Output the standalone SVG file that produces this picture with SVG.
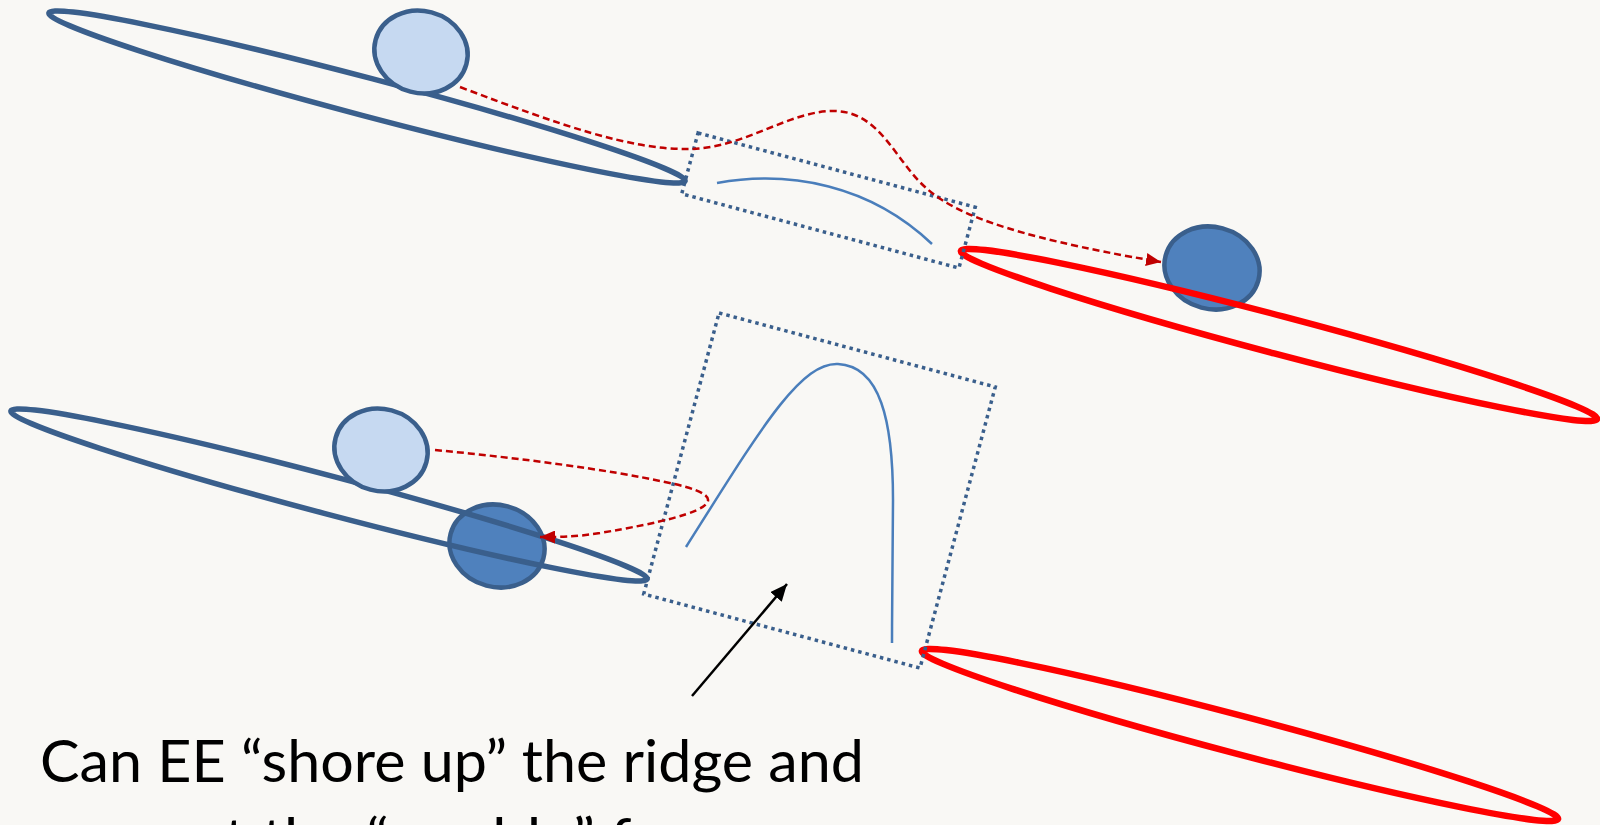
<svg xmlns="http://www.w3.org/2000/svg" width="1600" height="825" viewBox="0 0 1600 825">
  <defs>
    <style>
      .well-blue { fill: none; stroke: #3A5F8C; stroke-width: 5.5; }
      .well-red { fill: none; stroke: #FF0000; stroke-width: 6.5; }
      .ball-light { fill: #C6D9F1; stroke: #3A5F8C; stroke-width: 4.5; }
      .ball-dark { fill: #4F81BD; stroke: #3A5F8C; stroke-width: 4.5; }
      .box { fill: none; stroke: #3A5F8C; stroke-width: 3.5; stroke-dasharray: 3.5 4; }
      .ridge { fill: none; stroke: #4A7EBB; stroke-width: 2.5; }
      .path-red { fill: none; stroke: #C00000; stroke-width: 2.5; stroke-dasharray: 7 4; }
      .pointer { fill: none; stroke: #000000; stroke-width: 2.5; }
      .caption { font-family: "Lato", "Open Sans", "Liberation Sans", sans-serif; font-size: 59px; fill: #000000; }
    </style>
    <marker id="ah-red" markerWidth="15" markerHeight="13" refX="15" refY="6.5" orient="auto" markerUnits="userSpaceOnUse">
      <path d="M0,0 L15,6.5 L0,13 z" fill="#C00000"/>
    </marker>
    <marker id="ah-black" markerWidth="17" markerHeight="15" refX="17" refY="7.5" orient="auto" markerUnits="userSpaceOnUse">
      <path d="M0,0 L17,7.5 L0,15 z" fill="#000000"/>
    </marker>
  </defs>

  <rect x="0" y="0" width="1600" height="825" fill="#F9F8F5"/>

  <!-- Top scenario -->
  <g id="top-well-left">
    <ellipse class="well-blue" cx="367" cy="97" rx="329" ry="19" transform="rotate(14.8 367 97)"/>
  </g>
  <g id="top-ball-start">
    <ellipse class="ball-light" cx="421" cy="52" rx="47" ry="41" transform="rotate(15 421 52)"/>
  </g>
  <g id="top-ball-end">
    <ellipse class="ball-dark" cx="1212" cy="268" rx="48" ry="41" transform="rotate(15 1212 268)"/>
  </g>
  <g id="top-well-right">
    <ellipse class="well-red" cx="1279" cy="335" rx="329" ry="19" transform="rotate(14.8 1279 335)"/>
  </g>
  <g id="top-box">
    <rect class="box" x="-143.5" y="-31.5" width="287" height="63" transform="translate(828.5 200.5) rotate(15)"/>
    <path class="ridge" d="M717,183 C790,170 870,185 932,244"/>
  </g>

  <!-- Bottom scenario -->
  <g id="bottom-ball-end">
    <ellipse class="ball-dark" cx="497" cy="546" rx="48" ry="41" transform="rotate(15 497 546)"/>
  </g>
  <g id="bottom-well-left">
    <ellipse class="well-blue" cx="329" cy="495" rx="329" ry="19" transform="rotate(14.8 329 495)"/>
  </g>
  <g id="bottom-ball-start">
    <ellipse class="ball-light" cx="381" cy="450" rx="47" ry="41" transform="rotate(15 381 450)"/>
  </g>
  <g id="bottom-well-right">
    <ellipse class="well-red" cx="1240" cy="735" rx="329" ry="19" transform="rotate(14.8 1240 735)"/>
  </g>
  <g id="bottom-box">
    <rect class="box" x="-143" y="-145.5" width="286" height="291" transform="translate(819.5 490.5) rotate(15)"/>
    <path class="ridge" d="M686,547 C760,430 800,362 838,364 C880,366 893,420 893,500 C893,560 892,600 892,643"/>
  </g>

  <!-- Connectors -->
  <g id="connectors">
    <path class="path-red" d="M460,87 C560,125 630,150 690,149 C745,148 790,110 835,111 C880,112 895,160 925,187 C950,210 1000,235 1161,262" marker-end="url(#ah-red)"/>
    <path class="path-red" d="M435,450 C520,458 610,470 665,482 C700,489 712,496 707,503 C700,513 660,523 600,533 C575,537 560,537 540,537" marker-end="url(#ah-red)"/>
    <path class="pointer" d="M692,696 L787,584" marker-end="url(#ah-black)"/>
  </g>

  <g id="caption">
    <text class="caption" x="40" y="782" textLength="824" lengthAdjust="spacingAndGlyphs">Can EE “shore up” the ridge and</text>
    <text class="caption" x="40" y="860" textLength="698" lengthAdjust="spacingAndGlyphs">prevent the “marble” from</text>
  </g>
</svg>
